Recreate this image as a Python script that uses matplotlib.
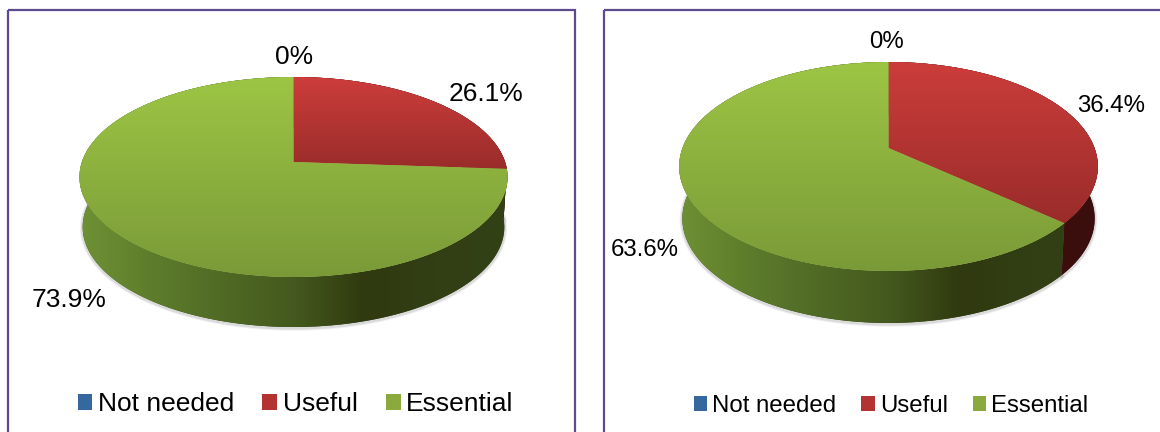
import numpy as np
import matplotlib
matplotlib.use("Agg")
import matplotlib.pyplot as plt
from matplotlib.path import Path
from matplotlib.patches import PathPatch, Rectangle
from matplotlib.transforms import Transform
from matplotlib.colors import LinearSegmentedColormap

plt.rcParams['font.family'] = ['Liberation Sans', 'DejaVu Sans']

categories = ['Not needed', 'Useful', 'Essential']
values_left = [0, 26.1, 73.9]
values_right = [0, 36.4, 63.6]

BASE = ['#34689f', '#b23331', '#8aaa3e']
TOP_GRAD = [('#3a75bc', '#2a5a96'), ('#cc3d3b', '#992c2a'), ('#9dc544', '#7a9a38')]
SIDE_CMAPS = [
    ['#1c3a5e', '#1c3a5e'],
    ['#4a1410', '#3a0e0c'],
    ['#6f9134', '#5e7d2c', '#506a25', '#44591e', '#30390f', '#323f14', '#334116'],
]
FRAME = '#5e4a8c'


class Perspective(Transform):
    """Projects the unit pie disc to panel pixels with a slight perspective."""
    input_dims = output_dims = 2
    has_inverse = False

    def __init__(self, cx, cy, A, a, k):
        super().__init__()
        self.p = (cx, cy, A, a, k)

    def transform_non_affine(self, values):
        cx, cy, A, a, k = self.p
        v = np.asarray(values, float)
        d = 1 + k * v[:, 1]
        return np.column_stack([cx + A * v[:, 0] / d, cy - a * v[:, 1] / d])

    def transform_path_non_affine(self, path):
        pts = []
        for curve, code in path.iter_bezier():
            if code == Path.MOVETO:
                pts.append(curve(0.0))
            else:
                pts.extend(curve(t) for t in np.linspace(0, 1, 25)[1:])
        return Path(self.transform_non_affine(np.array(pts).reshape(-1, 2)))


def draw_panel(ax, xlim, values, geom, depth, labels, label_pos, fs, legend_y,
               colspace, frame_box):
    proj = Perspective(*geom)
    wedges, _ = ax.pie(values, colors=BASE, startangle=90, counterclock=False,
                       radius=1, wedgeprops=dict(linewidth=0))
    ax.set_aspect('auto')
    ax.set_xlim(*xlim)
    ax.set_ylim(432, 0)
    ax.set_xticks([])
    ax.set_yticks([])
    ax.set_frame_on(False)

    trans = proj + ax.transData
    cx = geom[0]

    # sides
    frac = np.cumsum([0] + list(values)) / sum(values)
    for i, val in enumerate(values):
        if val == 0:
            continue
        th = np.pi / 2 - 2 * np.pi * np.linspace(frac[i], frac[i + 1], 300)
        edge = proj.transform_non_affine(np.column_stack([np.cos(th), np.sin(th)]))
        low = np.column_stack([cx + (edge[:, 0] - cx) * 0.985, edge[:, 1] + depth])
        outline = np.vstack([edge, low[::-1]])
        # soft shadow under the rim
        for lw, al in [(4, .08), (2.5, .14)]:
            ax.plot(low[:, 0], low[:, 1] + 1, color='#555555', lw=lw, alpha=al, zorder=1)
        patch = PathPatch(Path(outline), fc=SIDE_CMAPS[i][-1], lw=0, zorder=2)
        ax.add_patch(patch)
        cm = LinearSegmentedColormap.from_list('s', SIDE_CMAPS[i])
        x0, x1 = cx - 214, cx + 214
        im = ax.imshow(np.linspace(0, 1, 256)[None, :], cmap=cm, aspect='auto',
                       extent=(x0, x1, 432, 0), zorder=2.1)
        im.set_clip_path(patch)

    # tops
    for i, (w, val) in enumerate(zip(wedges, values)):
        w.set_transform(trans)
        w.set_clip_on(False)
        w.set_zorder(3)
        if val == 0:
            continue
        verts = proj.transform_path_non_affine(w.get_path()).vertices
        cm = LinearSegmentedColormap.from_list('t', TOP_GRAD[i])
        im = ax.imshow(np.linspace(0, 1, 256)[:, None], cmap=cm, aspect='auto',
                       extent=(verts[:, 0].min(), verts[:, 0].max(),
                               verts[:, 1].max(), verts[:, 1].min()),
                       origin='upper', zorder=3.1)
        im.set_clip_path(w)

    ax.set_xlim(*xlim)
    ax.set_ylim(432, 0)

    for lab, (px, py) in zip(labels, label_pos):
        ax.text(px, py, lab, ha='center', va='center', fontsize=fs, color='black', zorder=5)

    ax.legend(wedges, categories, ncols=3, loc='center',
              bbox_to_anchor=legend_y, bbox_transform=ax.transData,
              frameon=False, fontsize=fs, handlelength=0.56, handleheight=0.56,
              handletextpad=0.2, columnspacing=colspace, borderpad=0)

    ax.add_patch(Rectangle((frame_box[0], frame_box[1]), frame_box[2], frame_box[3],
                           fill=False, ec=FRAME, lw=1.6, zorder=6, clip_on=True))


fig = plt.figure(figsize=(11.6, 4.32), dpi=100)
axL = fig.add_axes([0, 0, 0.5, 1])
axR = fig.add_axes([0.5, 0, 0.5, 1])

draw_panel(axL, (0, 580), values_left, (293.5, 162, 211.6, 97.75, 0.15), 50,
           [f'{values_left[0]:g}%', f'{values_left[1]:g}%', f'{values_left[2]:g}%'],
           [(294, 57), (486, 94), (69, 300)], 19, (295.5, 404), 1.08,
           (8, 10, 567, 440))
draw_panel(axR, (580, 1160), values_right, (888.5, 148, 206, 101.2, 0.177), 52,
           [f'{values_right[0]:g}%', f'{values_right[1]:g}%', f'{values_right[2]:g}%'],
           [(887, 42), (1111, 106), (645, 250)], 17.3, (891, 406), 1.05,
           (604, 10, 600, 440))

fig.savefig('out.png', dpi=100)
